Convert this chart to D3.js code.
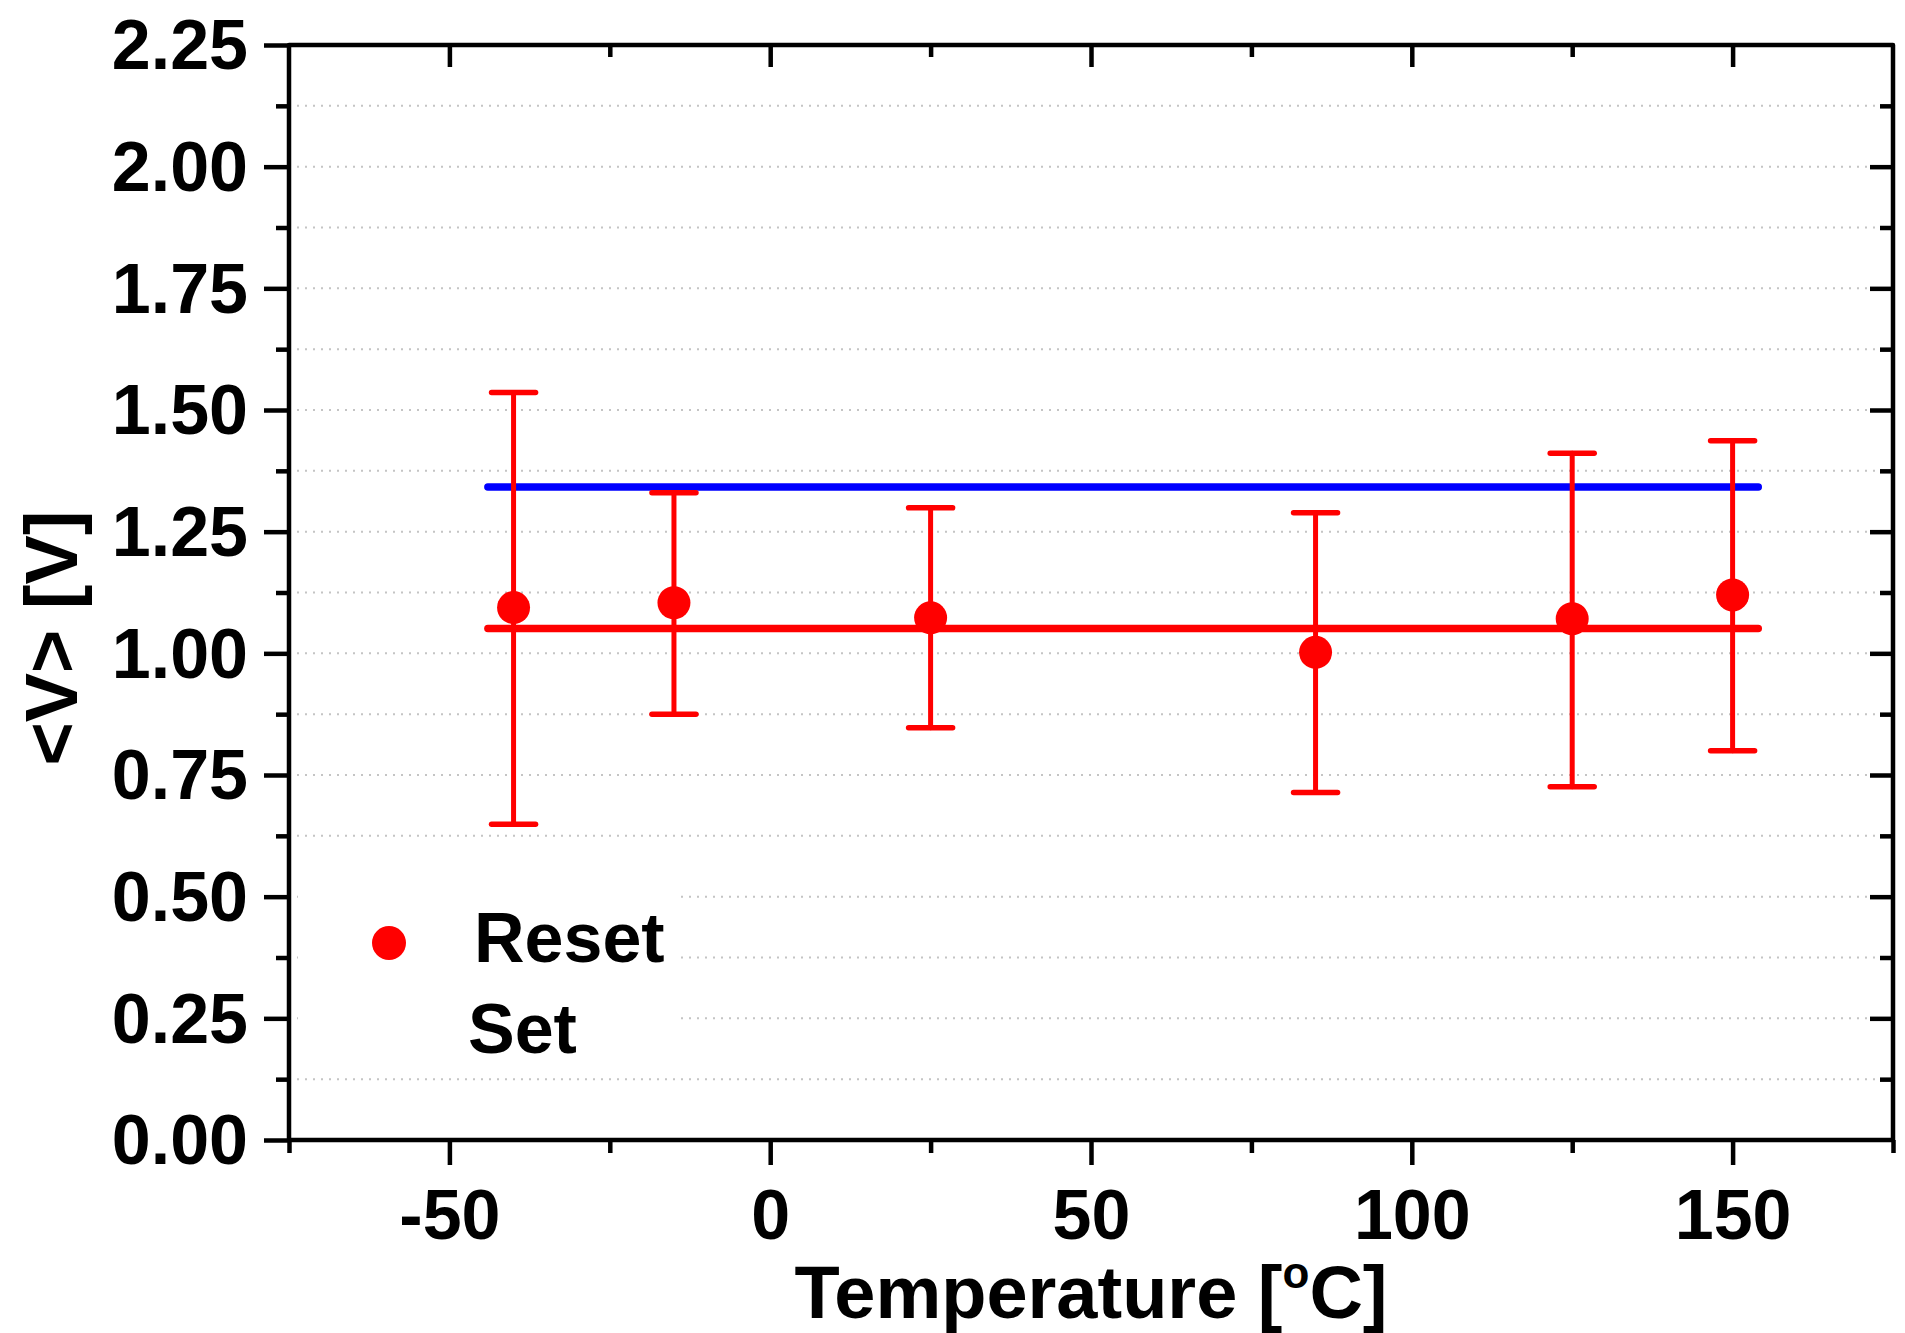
<!DOCTYPE html>
<html>
<head>
<meta charset="utf-8">
<script src="https://cdn.jsdelivr.net/npm/d3@7"></script>
<style>
  html, body { margin: 0; padding: 0; background: #fff; }
  svg { display: block; }
  text { font-family: "Liberation Sans", Arial, sans-serif; font-weight: bold; fill: #000; }
</style>
</head>
<body>
<svg id="chart" width="1905" height="1333"></svg>
<script>
// ---- data ----
const temperatures = [-40, -15, 25, 85, 125, 150];
const resetMean    = [1.094, 1.104, 1.073, 1.002, 1.071, 1.120];
const resetUpper   = [1.536, 1.330, 1.299, 1.289, 1.411, 1.437];
const resetLower   = [0.649, 0.875, 0.847, 0.714, 0.726, 0.800];
const setAverage   = 1.342;
const resetAverage = 1.051;
const averageSpan  = [-44, 154];
const xMajorTicks  = [-50, 0, 50, 100, 150];
const xMinorTicks  = [-75, -25, 25, 75, 125, 175];
const yMajorTicks  = [0, 0.25, 0.5, 0.75, 1.0, 1.25, 1.5, 1.75, 2.0, 2.25];
const yMinorTicks  = [0.125, 0.375, 0.625, 0.875, 1.125, 1.375, 1.625, 1.875, 2.125];
const legendLabels = ["Reset", "Set"];
const xTitle = "Temperature [";
const yTitle = "<V> [V]";

// ---- layout ----
const L = 289, R = 1893, T = 45, B = 1140;
const svg = d3.select("#chart");
const x = d3.scaleLinear().domain([-75, 175]).range([L, R]);
const y = d3.scaleLinear().domain([0, 2.25]).range([B, T]);
const axisW = 4.5;

// grid (dotted, at every major+minor inside)
const gridVals = yMajorTicks.concat(yMinorTicks).filter(v => v > 0 && v < 2.25);
svg.append("g").selectAll("line").data(gridVals).join("line")
  .attr("x1", L).attr("x2", R)
  .attr("y1", d => y(d)).attr("y2", d => y(d))
  .attr("stroke", "#c4c4c4").attr("stroke-width", 2)
  .attr("stroke-dasharray", "2,6");

// legend background box
svg.append("rect").attr("x", 298).attr("y", 862).attr("width", 382).attr("height", 196)
  .attr("fill", "#fff");

// average lines
const avgLine = (val, color) => svg.append("line")
  .attr("x1", x(averageSpan[0])).attr("x2", x(averageSpan[1]))
  .attr("y1", y(val)).attr("y2", y(val))
  .attr("stroke", color).attr("stroke-width", 7.5).attr("stroke-linecap", "round");
avgLine(setAverage, "#0000ff");
avgLine(resetAverage, "#ff0000");

// error bars
const pts = temperatures.map((t, i) => ({t, m: resetMean[i], hi: resetUpper[i], lo: resetLower[i]}));
const eb = svg.append("g").attr("stroke", "#ff0000").attr("stroke-linecap", "round");
eb.selectAll("line.v").data(pts).join("line").attr("class", "v")
  .attr("x1", d => x(d.t)).attr("x2", d => x(d.t))
  .attr("y1", d => y(d.hi)).attr("y2", d => y(d.lo))
  .attr("stroke-width", 5);
eb.selectAll("line.ct").data(pts).join("line").attr("class", "ct")
  .attr("x1", d => x(d.t) - 22).attr("x2", d => x(d.t) + 22)
  .attr("y1", d => y(d.hi)).attr("y2", d => y(d.hi))
  .attr("stroke-width", 5.5);
eb.selectAll("line.cb").data(pts).join("line").attr("class", "cb")
  .attr("x1", d => x(d.t) - 22).attr("x2", d => x(d.t) + 22)
  .attr("y1", d => y(d.lo)).attr("y2", d => y(d.lo))
  .attr("stroke-width", 5.5);

// points
svg.append("g").selectAll("circle").data(pts).join("circle")
  .attr("cx", d => x(d.t)).attr("cy", d => y(d.m)).attr("r", 16.5)
  .attr("fill", "#ff0000");

// ---- axes ----
function styleAxis(g) {
  g.select(".domain").remove();
  g.selectAll(".tick line").attr("stroke", "#000").attr("stroke-width", axisW);
}
// bottom
svg.append("g").attr("transform", `translate(0,${B})`)
  .call(d3.axisBottom(x).tickValues(xMajorTicks).tickSize(25).tickPadding(24).tickFormat(d => String(d)))
  .call(styleAxis)
  .call(g => g.selectAll("text").attr("font-size", 70).attr("dy", "0.71em")
    .style("font-family", '"Liberation Sans", Arial, sans-serif').style("font-weight", "bold"));
svg.append("g").attr("transform", `translate(0,${B})`)
  .call(d3.axisBottom(x).tickValues(xMinorTicks).tickSize(13).tickFormat(""))
  .call(styleAxis);
// top (inward)
svg.append("g").attr("transform", `translate(0,${T})`)
  .call(d3.axisTop(x).tickValues(xMajorTicks).tickSize(-22).tickFormat(""))
  .call(styleAxis);
svg.append("g").attr("transform", `translate(0,${T})`)
  .call(d3.axisTop(x).tickValues(xMinorTicks.filter(v => v > -75 && v < 175)).tickSize(-12).tickFormat(""))
  .call(styleAxis);
// left
svg.append("g").attr("transform", `translate(${L},0)`)
  .call(d3.axisLeft(y).tickValues(yMajorTicks).tickSize(25).tickPadding(16).tickFormat(d => d.toFixed(2)))
  .call(styleAxis)
  .call(g => g.selectAll("text").attr("font-size", 70).attr("dy", "0.34em")
    .style("font-family", '"Liberation Sans", Arial, sans-serif').style("font-weight", "bold"));
svg.append("g").attr("transform", `translate(${L},0)`)
  .call(d3.axisLeft(y).tickValues(yMinorTicks).tickSize(13).tickFormat(""))
  .call(styleAxis);
// right (inward)
svg.append("g").attr("transform", `translate(${R},0)`)
  .call(d3.axisRight(y).tickValues(yMajorTicks.filter(v => v > 0 && v < 2.25)).tickSize(-23).tickFormat(""))
  .call(styleAxis);
svg.append("g").attr("transform", `translate(${R},0)`)
  .call(d3.axisRight(y).tickValues(yMinorTicks).tickSize(-13).tickFormat(""))
  .call(styleAxis);

// frame
svg.append("rect").attr("x", L).attr("y", T).attr("width", R - L).attr("height", B - T)
  .attr("fill", "none").attr("stroke", "#000").attr("stroke-width", axisW)
  .attr("stroke-linejoin", "round");

// ---- titles ----
const xt = svg.append("text").attr("x", (L + R) / 2).attr("y", 1318)
  .attr("text-anchor", "middle").attr("font-size", 74);
xt.append("tspan").text(xTitle);
xt.append("tspan").attr("font-size", 44).attr("dy", -30).text("o");
xt.append("tspan").attr("dy", 30).text("C]");

svg.append("text").attr("transform", "translate(77,638) rotate(-90)")
  .attr("text-anchor", "middle").attr("font-size", 74).text(yTitle);

// ---- legend ----
svg.append("circle").attr("cx", 389).attr("cy", 943).attr("r", 17).attr("fill", "#ff0000");
svg.append("text").attr("x", 474).attr("y", 962).attr("font-size", 70).text(legendLabels[0]);
svg.append("text").attr("x", 468).attr("y", 1053).attr("font-size", 70).text(legendLabels[1]);
</script>
</body>
</html>
